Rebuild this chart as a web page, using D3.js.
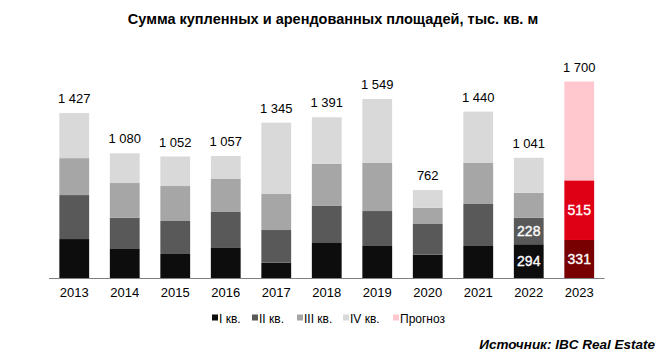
<!DOCTYPE html>
<html><head><meta charset="utf-8">
<script src="https://cdn.jsdelivr.net/npm/d3@7"></script>
<style>body{margin:0;background:#fff;} svg{display:block;font-family:"Liberation Sans",Arial,sans-serif;}</style>
</head><body>
<svg id="c" width="670" height="356"></svg>
<script>
const years = ["2013","2014","2015","2016","2017","2018","2019","2020","2021","2022","2023"];
const q1 = [339,253,210,262,135,305,279,204,279,294,331];
const q2 = [380,270,285,311,282,320,302,265,363,228,515];
const q3 = [319,300,302,285,311,363,415,141,354,216,0];
const q4 = [389,257,255,199,617,403,553,152,444,303,0];
const forecast = [0,0,0,0,0,0,0,0,0,0,854];
const totals = [1427,1080,1052,1057,1345,1391,1549,762,1440,1041,1700];
const insideLabels = {"2022":[294,228],"2023":[331,515]};
const legendLabels = ["I кв.","II кв.","III кв.","IV кв.","Прогноз"];
const title = "Сумма купленных и арендованных площадей, тыс. кв. м";
const source = "Источник: IBC Real Estate";

const keys = ["q1","q2","q3","q4","f"];
const greyColors = ["#0d0d0d","#595959","#a6a6a6","#d9d9d9","#ffc7ce"];
const redColors = ["#780000","#e00016","#a6a6a6","#d9d9d9","#ffc7ce"];

const data = years.map((y,i)=>({year:y,q1:q1[i],q2:q2[i],q3:q3[i],q4:q4[i],f:forecast[i]}));
const series = d3.stack().keys(keys)(data);

const svg = d3.select("#c");
const x = d3.scaleBand().domain(years).range([49,604.5]).paddingInner(0.41).paddingOuter(0.205);
const y = d3.scaleLinear().domain([0,1700]).range([278.3,81.5]);

svg.append("text").attr("x",333).attr("y",24).attr("text-anchor","middle")
  .attr("font-size","14.5px").attr("font-weight","bold").attr("fill","#000").text(title);

series.forEach((s,si)=>{
  svg.append("g").selectAll("rect").data(s).join("rect")
    .attr("x",d=>x(d.data.year)).attr("width",x.bandwidth())
    .attr("y",d=>y(d[1])).attr("height",d=>Math.max(0,y(d[0])-y(d[1])))
    .attr("fill",d=>d.data.year==="2023"?redColors[si]:greyColors[si]);
});

svg.append("line").attr("x1",49).attr("x2",604.5).attr("y1",278.5).attr("y2",278.5)
  .attr("stroke","#808080").attr("stroke-width",1);

const xAxis = d3.axisBottom(x).tickSize(0).tickPadding(0);
const ax = svg.append("g").attr("transform","translate(0,278.3)").call(xAxis);
ax.select(".domain").remove();
ax.selectAll("text").attr("font-size","13px").attr("fill","#000")
  .attr("font-family","Liberation Sans, Arial, sans-serif").attr("dy","1.45em").attr("y",0);

const fmt = v => d3.format(",")(v).replace(/,/g,"\u00a0");
svg.append("g").selectAll("text").data(data).join("text")
  .attr("x",d=>x(d.year)+x.bandwidth()/2)
  .attr("y",(d,i)=>y(totals[i])-10)
  .attr("text-anchor","middle").attr("font-size","13px").attr("fill","#000")
  .text((d,i)=>fmt(totals[i]));

Object.keys(insideLabels).forEach(yr=>{
  const i = years.indexOf(yr);
  const d = data[i];
  const vals = insideLabels[yr];
  const segs = [[0,d.q1],[d.q1,d.q1+d.q2]];
  segs.forEach((sg,j)=>{
    svg.append("text").attr("x",x(yr)+x.bandwidth()/2)
      .attr("y",(y(sg[0])+y(sg[1]))/2+5)
      .attr("text-anchor","middle").attr("font-size","14px")
      .attr("stroke","#fff").attr("stroke-width",0.35)
      .attr("fill","#fff").text(vals[j]);
  });
});

const lx = [212,252,297,343,393];
const lg = svg.append("g");
legendLabels.forEach((l,i)=>{
  lg.append("rect").attr("x",lx[i]).attr("y",314.5).attr("width",6).attr("height",6).attr("fill",greyColors[i]);
  lg.append("text").attr("x",lx[i]+7).attr("y",322.5).attr("font-size","12px").attr("fill","#000").text(l);
});

svg.append("text").attr("x",655).attr("y",349).attr("text-anchor","end")
  .attr("font-size","13.5px").attr("font-weight","bold").attr("font-style","italic").attr("fill","#000").text(source);
</script>
</body></html>
